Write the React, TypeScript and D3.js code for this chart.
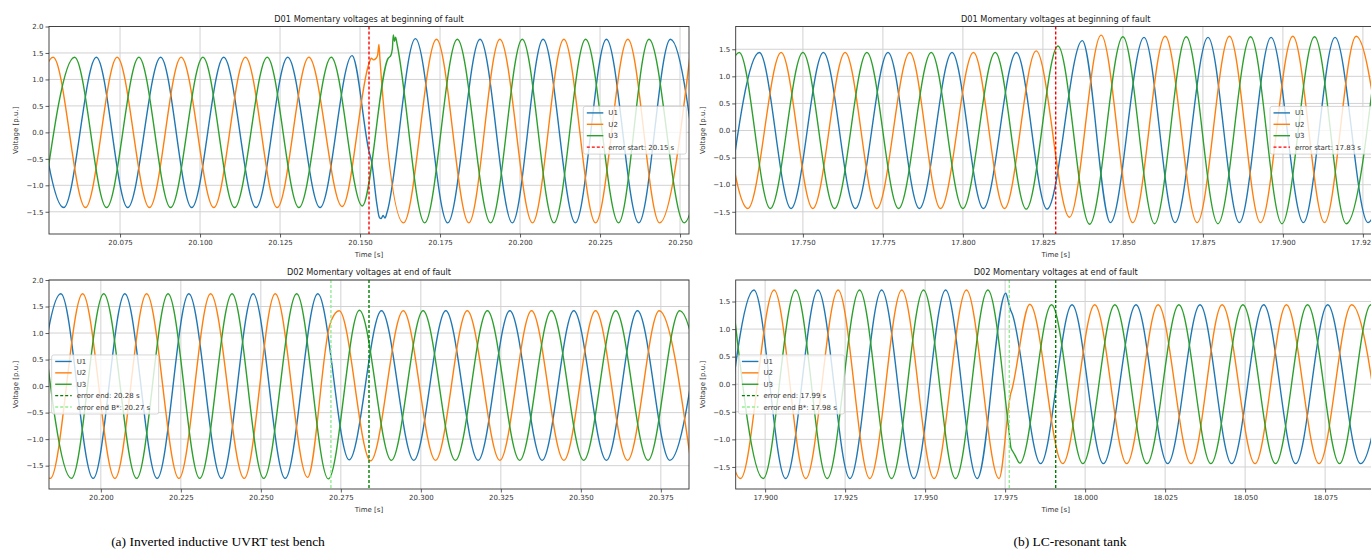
import React from 'react'
import * as d3 from 'd3'

type Pt = [number, number]

// time [s], voltage [p.u.] — peaks / troughs, plus a few points on the transients
const aStartU1: Pt[] = [
    [20.0476, 1.42], [20.0574, -1.42], [20.0676, 1.42], [20.0774, -1.42], [20.0877, 1.42], [20.0974, -1.42],
    [20.1074, 1.42], [20.1175, -1.42], [20.1274, 1.42], [20.1375, -1.42], [20.1475, 1.45], [20.1528, -0.36],
    [20.1536, -0.55], [20.1552, -1.33], [20.156, -1.6], [20.1566, -1.63], [20.1572, -1.57], [20.1578, -1.62],
    [20.1584, -1.52], [20.1673, 1.77], [20.1774, -1.71], [20.1875, 1.76], [20.1976, -1.71], [20.2072, 1.76],
    [20.2173, -1.71], [20.227, 1.76], [20.2371, -1.71], [20.247, 1.76], [20.257, -1.71],
]
const aStartU2: Pt[] = [
    [20.0442, -1.42], [20.0541, 1.42], [20.0642, -1.42], [20.0741, 1.42], [20.0842, -1.42], [20.0941, 1.42],
    [20.1043, -1.42], [20.1142, 1.42], [20.1241, -1.42], [20.134, 1.42], [20.1444, -1.4], [20.1528, 1.3],
    [20.1535, 1.4], [20.1542, 1.37], [20.155, 1.4], [20.1555, 1.46], [20.1559, 1.66], [20.1562, 1.4],
    [20.1636, -1.71], [20.1739, 1.76], [20.184, -1.71], [20.1937, 1.76], [20.2039, -1.71], [20.2137, 1.76],
    [20.2236, -1.71], [20.2337, 1.76], [20.2436, -1.71], [20.2537, 1.76],
]
const aStartU3: Pt[] = [
    [20.0508, -1.42], [20.0608, 1.42], [20.0708, -1.42], [20.0809, 1.42], [20.0908, -1.42], [20.1009, 1.42],
    [20.1108, -1.42], [20.121, 1.42], [20.1309, -1.42], [20.141, 1.42], [20.1507, -1.39], [20.1588, 1.4],
    [20.1596, 1.45], [20.1601, 1.58], [20.1604, 1.84], [20.1608, 1.72], [20.1611, 1.8], [20.1616, 1.66],
    [20.1702, -1.71], [20.1804, 1.76], [20.1908, -1.71], [20.2007, 1.76], [20.2106, -1.71], [20.2205, 1.76],
    [20.2308, -1.71], [20.2403, 1.76], [20.2513, -1.71], [20.2605, 1.76],
]

const bStartU1: Pt[] = [
    [17.7263, -1.44], [17.7364, 1.44], [17.7463, -1.44], [17.7564, 1.44], [17.7664, -1.44], [17.7766, 1.44],
    [17.7864, -1.44], [17.7966, 1.44], [17.8064, -1.44], [17.8167, 1.44], [17.8263, -1.45], [17.8373, 1.66],
    [17.8461, -1.7], [17.8566, 1.72], [17.8663, -1.7], [17.8766, 1.72], [17.8864, -1.7], [17.8963, 1.72],
    [17.9064, -1.7], [17.9163, 1.72], [17.9266, -1.7], [17.9365, 1.72],
]
const bStartU2: Pt[] = [
    [17.7232, 1.44], [17.7328, -1.44], [17.7432, 1.44], [17.7531, -1.44], [17.7632, 1.44], [17.7731, -1.44],
    [17.7834, 1.44], [17.793, -1.44], [17.8033, 1.44], [17.813, -1.44], [17.8229, 1.47], [17.8333, -1.6],
    [17.8432, 1.76], [17.8531, -1.7], [17.8632, 1.74], [17.8732, -1.7], [17.8833, 1.74], [17.893, -1.7],
    [17.9031, 1.74], [17.913, -1.7], [17.9229, 1.74], [17.933, -1.7],
]
const bStartU3: Pt[] = [
    [17.7202, -1.44], [17.7301, 1.44], [17.7398, -1.44], [17.75, 1.44], [17.7599, -1.44], [17.77, 1.44],
    [17.7799, -1.44], [17.7901, 1.44], [17.8, -1.44], [17.8101, 1.44], [17.8198, -1.45], [17.8297, 1.56],
    [17.8396, -1.73], [17.85, 1.73], [17.8599, -1.72], [17.8698, 1.73], [17.8797, -1.72], [17.8899, 1.73],
    [17.8997, -1.72], [17.9099, 1.73], [17.9198, -1.72], [17.9298, 1.73],
]

const aEndU1: Pt[] = [
    [20.1775, -1.74], [20.1875, 1.74], [20.1976, -1.74], [20.2075, 1.74], [20.2176, -1.74], [20.2275, 1.74],
    [20.2377, -1.74], [20.2476, 1.74], [20.2576, -1.74], [20.2678, 1.74], [20.2776, -1.39], [20.2877, 1.42],
    [20.2978, -1.4], [20.3078, 1.42], [20.3179, -1.4], [20.3278, 1.42], [20.3379, -1.4], [20.3478, 1.42],
    [20.358, -1.4], [20.3677, 1.42], [20.3778, -1.4], [20.3877, 1.42],
]
const aEndU2: Pt[] = [
    [20.1743, 1.74], [20.1842, -1.74], [20.1943, 1.74], [20.2044, -1.74], [20.2143, 1.74], [20.2244, -1.74],
    [20.2343, 1.74], [20.2448, -1.74], [20.2545, 1.74], [20.2646, -1.72], [20.2714, 1.12], [20.2718, 1.2],
    [20.2722, 1.26], [20.2745, 1.42], [20.2843, -1.41], [20.2945, 1.42], [20.3046, -1.4], [20.3145, 1.42],
    [20.3247, -1.4], [20.3346, 1.42], [20.3447, -1.4], [20.3546, 1.42], [20.3646, -1.4], [20.3745, 1.42],
    [20.3843, -1.4],
]
const aEndU3: Pt[] = [
    [20.1808, 1.74], [20.1908, -1.74], [20.2009, 1.74], [20.2112, -1.74], [20.221, 1.74], [20.2309, -1.74],
    [20.241, 1.74], [20.2509, -1.74], [20.2612, 1.74], [20.2711, -1.75], [20.2808, 1.43], [20.2908, -1.4],
    [20.3007, 1.42], [20.3108, -1.4], [20.3208, 1.42], [20.3309, -1.4], [20.3408, 1.42], [20.3509, -1.4],
    [20.3609, 1.42], [20.371, -1.4], [20.3809, 1.42], [20.391, -1.4],
]

const bEndU1: Pt[] = [
    [17.8865, -1.71], [17.8965, 1.71], [17.9064, -1.71], [17.9165, 1.71], [17.9265, -1.71], [17.9364, 1.71],
    [17.9465, -1.71], [17.9564, 1.71], [17.9663, -1.71], [17.9752, 1.65], [17.976, 1.5], [17.9766, 1.36],
    [17.9772, 1.28], [17.9861, -1.44], [17.9959, 1.44], [18.0057, -1.44], [18.0159, 1.44], [18.0258, -1.44],
    [18.0359, 1.44], [18.0458, -1.44], [18.0558, 1.44], [18.0658, -1.44], [18.0758, 1.44], [18.0861, -1.44],
    [18.0958, 1.44],
]
const bEndU2: Pt[] = [
    [17.8826, 1.71], [17.8923, -1.71], [17.9028, 1.71], [17.9127, -1.71], [17.9228, 1.71], [17.9327, -1.71],
    [17.9427, 1.71], [17.9528, -1.71], [17.9629, 1.71], [17.9731, -1.71], [17.9764, -0.28], [17.9767, -0.18],
    [17.9771, -0.1], [17.9827, 1.45], [17.993, -1.44], [18.003, 1.44], [18.013, -1.44], [18.0228, 1.44],
    [18.0331, -1.44], [18.0428, 1.44], [18.0531, -1.44], [18.0629, 1.44], [18.0731, -1.44], [18.0833, 1.44],
    [18.0932, -1.44],
]
const bEndU3: Pt[] = [
    [17.8895, 1.71], [17.8994, -1.71], [17.9095, 1.71], [17.9194, -1.71], [17.9295, 1.71], [17.9395, -1.71],
    [17.9495, 1.71], [17.9595, -1.71], [17.9696, 1.71], [17.9762, -0.85], [17.9768, -1.15], [17.9774, -1.22],
    [17.978, -1.28], [17.9796, -1.43], [17.9895, 1.44], [17.9993, -1.44], [18.0093, 1.44], [18.0193, -1.44],
    [18.0293, 1.44], [18.0393, -1.44], [18.0493, 1.44], [18.0595, -1.44], [18.0695, 1.44], [18.0795, -1.44],
    [18.0893, 1.44], [18.0993, -1.44],
]

const aStartTicks = [20.075, 20.1, 20.125, 20.15, 20.175, 20.2, 20.225, 20.25]
const bStartTicks = [17.75, 17.775, 17.8, 17.825, 17.85, 17.875, 17.9, 17.925]
const aEndTicks = [20.2, 20.225, 20.25, 20.275, 20.3, 20.325, 20.35, 20.375]
const bEndTicks = [17.9, 17.925, 17.95, 17.975, 18.0, 18.025, 18.05, 18.075]
const voltTicksA = [-1.5, -1, -0.5, 0, 0.5, 1, 1.5, 2]
const voltTicksB = [-1.5, -1, -0.5, 0, 0.5, 1, 1.5]

// fault markers (time, label)
const aStartMarkers = [{ t: 20.1528, label: 'error start: 20.15 s', color: '#ff0000' }]
const bStartMarkers = [{ t: 17.829, label: 'error start: 17.83 s', color: '#ff0000' }]
const aEndMarkers = [
    { t: 20.2838, label: 'error end: 20.28 s', color: '#008000' },
    { t: 20.2719, label: 'error end B*: 20.27 s', color: '#90ee90' },
]
const bEndMarkers = [
    { t: 17.9908, label: 'error end: 17.99 s', color: '#008000' },
    { t: 17.9763, label: 'error end B*: 17.98 s', color: '#90ee90' },
]

const phaseLabels = ['U1', 'U2', 'U3']
const colors = ['#1f77b4', '#ff7f0e', '#2ca02c']

const titleStart = 'D01 Momentary voltages at beginning of fault'
const titleEnd = 'D02 Momentary voltages at end of fault'

const panels = [
    { id: 'as', x: 49, y: 26.5, w: 640, h: 207.5, xd: [20.0528, 20.2528], yd: [-1.92, 2.0], xt: aStartTicks, yt: voltTicksA, title: titleStart, data: [aStartU1, aStartU2, aStartU3], markers: aStartMarkers, legendRight: true, lw: 103 },
    { id: 'bs', x: 735.7, y: 26.5, w: 640, h: 207.5, xd: [17.729, 17.929], yd: [-1.91, 1.92], xt: bStartTicks, yt: voltTicksB, title: titleStart, data: [bStartU1, bStartU2, bStartU3], markers: bStartMarkers, legendRight: true, lw: 103 },
    { id: 'ae', x: 49, y: 280, w: 640, h: 209, xd: [20.1838, 20.3838], yd: [-1.94, 2.0], xt: aEndTicks, yt: voltTicksA, title: titleEnd, data: [aEndU1, aEndU2, aEndU3], markers: aEndMarkers, legendRight: false, lw: 107 },
    { id: 'be', x: 735.7, y: 280, w: 640, h: 209, xd: [17.8908, 18.0908], yd: [-1.9, 1.89], xt: bEndTicks, yt: voltTicksB, title: titleEnd, data: [bEndU1, bEndU2, bEndU3], markers: bEndMarkers, legendRight: false, lw: 106 },
]

const FONT = 'DejaVu Sans'

function drawPanel(svg: any, p: any) {
    const x = d3.scaleLinear().domain(p.xd).range([p.x, p.x + p.w])
    const y = d3.scaleLinear().domain(p.yd).range([p.y + p.h, p.y])
    const g = svg.append('g')

    // grid
    g.selectAll('.gx').data(p.xt).enter().append('line')
        .attr('x1', (d: number) => x(d)).attr('x2', (d: number) => x(d))
        .attr('y1', p.y).attr('y2', p.y + p.h)
        .attr('stroke', '#d2d2d2').attr('stroke-width', 1)
    g.selectAll('.gy').data(p.yt).enter().append('line')
        .attr('x1', p.x).attr('x2', p.x + p.w)
        .attr('y1', (d: number) => y(d)).attr('y2', (d: number) => y(d))
        .attr('stroke', '#d2d2d2').attr('stroke-width', 1)

    svg.append('defs').append('clipPath').attr('id', 'clip-' + p.id)
        .append('rect').attr('x', p.x).attr('y', p.y).attr('width', p.w).attr('height', p.h)

    const plot = g.append('g').attr('clip-path', `url(#clip-${p.id})`)
    const line = d3.line<Pt>().x((d) => x(d[0])).y((d) => y(d[1])).curve(d3.curveMonotoneX)
    p.data.forEach((s: Pt[], i: number) => {
        plot.append('path').attr('d', line(s)).attr('fill', 'none')
            .attr('stroke', colors[i]).attr('stroke-width', 1.4)
    })
    p.markers.forEach((m: any) => {
        plot.append('line').attr('x1', x(m.t)).attr('x2', x(m.t))
            .attr('y1', p.y).attr('y2', p.y + p.h)
            .attr('stroke', m.color).attr('stroke-width', 1.4).attr('stroke-dasharray', '3,2')
    })

    // frame
    g.append('rect').attr('x', p.x).attr('y', p.y).attr('width', p.w).attr('height', p.h)
        .attr('fill', 'none').attr('stroke', '#333').attr('stroke-width', 0.9)

    // axes
    const xa = g.append('g').attr('transform', `translate(0,${p.y + p.h})`)
        .call(d3.axisBottom(x).tickValues(p.xt).tickSize(3.5).tickPadding(3).tickFormat((d: any) => d3.format('.3f')(d)))
    const ya = g.append('g').attr('transform', `translate(${p.x},0)`)
        .call(d3.axisLeft(y).tickValues(p.yt).tickSize(3.5).tickPadding(2).tickFormat((d: any) => d.toFixed(1).replace('-', '\u2212')))
    ;[xa, ya].forEach((a) => {
        a.select('.domain').remove()
        a.attr('font-family', FONT).attr('font-size', 7)
        a.selectAll('line').attr('stroke', '#333').attr('stroke-width', 0.8)
        a.selectAll('text').attr('fill', '#333')
    })

    g.append('text').attr('x', p.x + p.w / 2).attr('y', p.y - 5).attr('text-anchor', 'middle')
        .attr('font-family', FONT).attr('font-size', 8.2).attr('fill', '#222').text(p.title)
    g.append('text').attr('x', p.x + p.w / 2).attr('y', p.y + p.h + 23).attr('text-anchor', 'middle')
        .attr('font-family', FONT).attr('font-size', 7).attr('fill', '#333').text('Time [s]')
    g.append('text').attr('transform', `translate(${p.x - 31},${p.y + p.h / 2}) rotate(-90)`)
        .attr('text-anchor', 'middle').attr('font-family', FONT).attr('font-size', 7).attr('fill', '#333')
        .text('Voltage [p.u.]')

    // legend
    const entries = [
        ...phaseLabels.map((l, i) => ({ label: l, color: colors[i], dash: null as string | null })),
        ...p.markers.map((m: any) => ({ label: m.label, color: m.color, dash: '3,2' })),
    ]
    const rowH = 11.4
    const lh = 6.5 + (entries.length - 1) * rowH + 7
    const lx = p.legendRight ? p.x + p.w - 2.7 - p.lw : p.x + 2.7
    const ly = p.y + p.h / 2 - lh / 2
    const lg = g.append('g')
    lg.append('rect').attr('x', lx).attr('y', ly).attr('width', p.lw).attr('height', lh).attr('rx', 2)
        .attr('fill', 'white').attr('fill-opacity', 0.8).attr('stroke', '#cccccc').attr('stroke-width', 0.8)
    const rows = lg.selectAll('.row').data(entries).enter().append('g')
        .attr('transform', (_d: any, i: number) => `translate(${lx},${ly + 6.5 + i * rowH})`)
    rows.append('line').attr('x1', 3.5).attr('x2', 20).attr('y1', 0).attr('y2', 0)
        .attr('stroke', (d: any) => d.color).attr('stroke-width', 1.4)
        .attr('stroke-dasharray', (d: any) => d.dash)
    rows.append('text').attr('x', 25).attr('y', 0).attr('dy', '0.35em')
        .attr('font-family', FONT).attr('font-size', 7).attr('fill', '#333')
        .text((d: any) => d.label)
}

const App = () => {
    const ref = React.useRef<SVGSVGElement>(null)
    React.useEffect(() => {
        const svg = d3.select(ref.current)
        svg.selectAll('*').remove()
        panels.forEach((p) => drawPanel(svg, p))

        svg.append('text').attr('x', 218).attr('y', 546).attr('text-anchor', 'middle')
            .attr('font-family', 'Liberation Serif').attr('font-size', 13.5).attr('fill', '#000')
            .text('(a) Inverted inductive UVRT test bench')
        svg.append('text').attr('x', 1070).attr('y', 546).attr('text-anchor', 'middle')
            .attr('font-family', 'Liberation Serif').attr('font-size', 13.5).attr('fill', '#000')
            .text('(b) LC-resonant tank')
    }, [])
    return (
        <svg
            ref={ref}
            width={1371}
            height={556}
            style={{ position: 'absolute', left: 0, top: 0, background: 'white' }}
        ></svg>
    )
}

export default App
